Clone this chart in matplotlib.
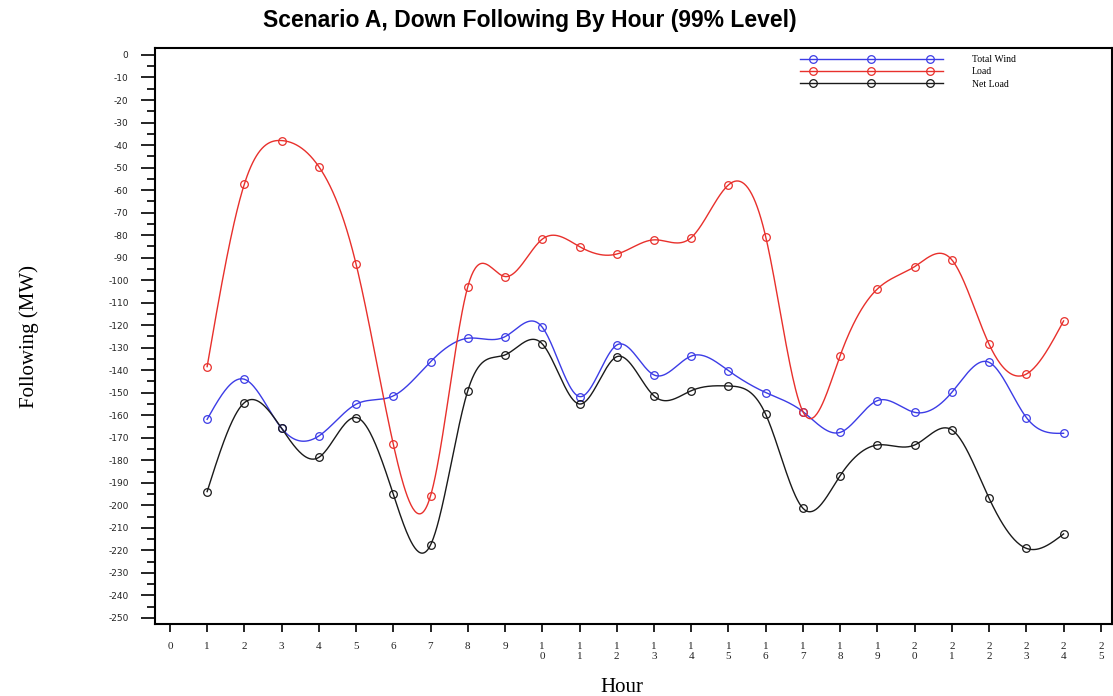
import numpy as np
import matplotlib
matplotlib.use("Agg")
import matplotlib.pyplot as plt
from matplotlib.legend_handler import HandlerLine2D, HandlerTuple

# Hourly down-following requirement (MW), 99% level
hours = list(range(1, 25))
total_wind = [-161.8, -144.0, -165.8, -169.2, -155.1, -151.4, -136.2, -125.8,
              -125.1, -120.9, -151.7, -128.8, -142.1, -133.7, -140.2, -149.9,
              -158.4, -167.6, -153.5, -158.7, -149.8, -136.5, -161.0, -168.0]
load = [-138.4, -57.3, -38.0, -49.6, -92.9, -172.9, -195.8, -102.9,
        -98.4, -81.8, -85.1, -88.4, -82.1, -81.1, -57.7, -80.7,
        -158.4, -133.5, -103.9, -94.0, -91.0, -128.5, -141.7, -118.1]
net_load = [-193.9, -154.4, -165.8, -178.7, -161.0, -195.1, -217.6, -149.1,
            -133.2, -128.3, -155.0, -134.0, -151.4, -149.1, -147.0, -159.6,
            -201.3, -186.8, -173.2, -173.2, -166.5, -196.9, -219.1, -212.7]

x_ticks = list(range(0, 26))
y_ticks = list(range(-250, 1, 10))


def natural_spline(x, y, n=40):
    """Natural cubic spline through (x, y) for a smooth connecting line."""
    x = np.asarray(x, float)
    y = np.asarray(y, float)
    m = len(x)
    h = np.diff(x)
    A = np.zeros((m, m))
    b = np.zeros(m)
    A[0, 0] = A[-1, -1] = 1.0
    for i in range(1, m - 1):
        A[i, i - 1] = h[i - 1]
        A[i, i] = 2 * (h[i - 1] + h[i])
        A[i, i + 1] = h[i]
        b[i] = 6 * ((y[i + 1] - y[i]) / h[i] - (y[i] - y[i - 1]) / h[i - 1])
    M = np.linalg.solve(A, b)
    xs, ys = [], []
    for i in range(m - 1):
        t = np.linspace(x[i], x[i + 1], n, endpoint=(i == m - 2))
        a = x[i + 1] - t
        c = t - x[i]
        s = (M[i] * a ** 3 + M[i + 1] * c ** 3) / (6 * h[i]) \
            + (y[i] / h[i] - M[i] * h[i] / 6) * a \
            + (y[i + 1] / h[i] - M[i + 1] * h[i] / 6) * c
        xs.append(t)
        ys.append(s)
    return np.concatenate(xs), np.concatenate(ys)


series = [
    ("Total Wind", total_wind, "#3c3ce6"),
    ("Load", load, "#e8302c"),
    ("Net Load", net_load, "#1a1a1a"),
]

fig = plt.figure(figsize=(11.13, 6.96), dpi=100)
ax = fig.add_axes([155 / 1113, 1 - 624 / 696, 957 / 1113, 576 / 696])

handles, labels, hmap = [], [], {}
for name, vals, col in series:
    sx, sy = natural_spline(hours, vals)
    ax.plot(sx, sy, color=col, lw=1.0, zorder=2)
    ax.plot(hours, vals, ls="none", marker="o", ms=5.5, mfc="none",
            mec=col, mew=0.9, zorder=3)
    # legend key: full-width line plus three inset markers
    lh, = ax.plot([], [], color=col, lw=1.0)
    mh, = ax.plot([], [], ls="none", marker="o", ms=5.5, mfc="none",
                  mec=col, mew=0.9)
    hmap[lh] = HandlerLine2D(numpoints=2, marker_pad=0)
    hmap[mh] = HandlerLine2D(numpoints=3, marker_pad=1.34)
    handles.append((lh, mh))
    labels.append(name)
hmap[tuple] = HandlerTuple(ndivide=1, pad=0)

ax.set_xlim(-0.4, 25.3)
ax.set_ylim(-252.7, 3.1)

ax.set_yticks(y_ticks)
ax.set_yticks(np.arange(-250, 1, 5), minor=True)
ax.set_yticklabels([str(v) for v in y_ticks], fontsize=6.5,
                   family="DejaVu Sans", color="#222222")
ax.set_xticks(x_ticks)
ax.set_xticklabels(["\n".join(str(v)) for v in x_ticks], fontsize=8,
                   family="Liberation Serif", linespacing=1.1,
                   color="#222222", va="top")
ax.tick_params(axis="y", which="major", length=10, width=1.2, pad=9)
ax.tick_params(axis="y", which="minor", length=6, width=1.2)
ax.tick_params(axis="x", which="major", length=6, width=1.2, pad=7)
for sp in ax.spines.values():
    sp.set_linewidth(1.5)

ax.set_ylabel("Following (MW)", family="Liberation Serif", fontsize=15,
              va="center")
ax.yaxis.set_label_coords(-(155 - 29) / 957, 0.5)
ax.set_xlabel("Hour", family="Liberation Serif", fontsize=15, va="center")
ax.xaxis.set_label_coords((622 - 155) / 957, -(687 - 624) / 576)

fig.text(530 / 1113, 1 - 21 / 696, "Scenario A, Down Following By Hour (99% Level)",
         ha="center", va="center", fontsize=16.5, fontweight="bold",
         family="Liberation Sans")

ax.legend(handles, labels, loc="upper left",
          bbox_to_anchor=(800 / 1113, 1 - 55 / 696),
          bbox_transform=fig.transFigure, frameon=False,
          prop={"family": "Liberation Serif", "size": 7},
          handlelength=14.7, handletextpad=3.0, labelspacing=0.35,
          borderpad=0, borderaxespad=0, handler_map=hmap)

fig.savefig("out.png", dpi=100)
